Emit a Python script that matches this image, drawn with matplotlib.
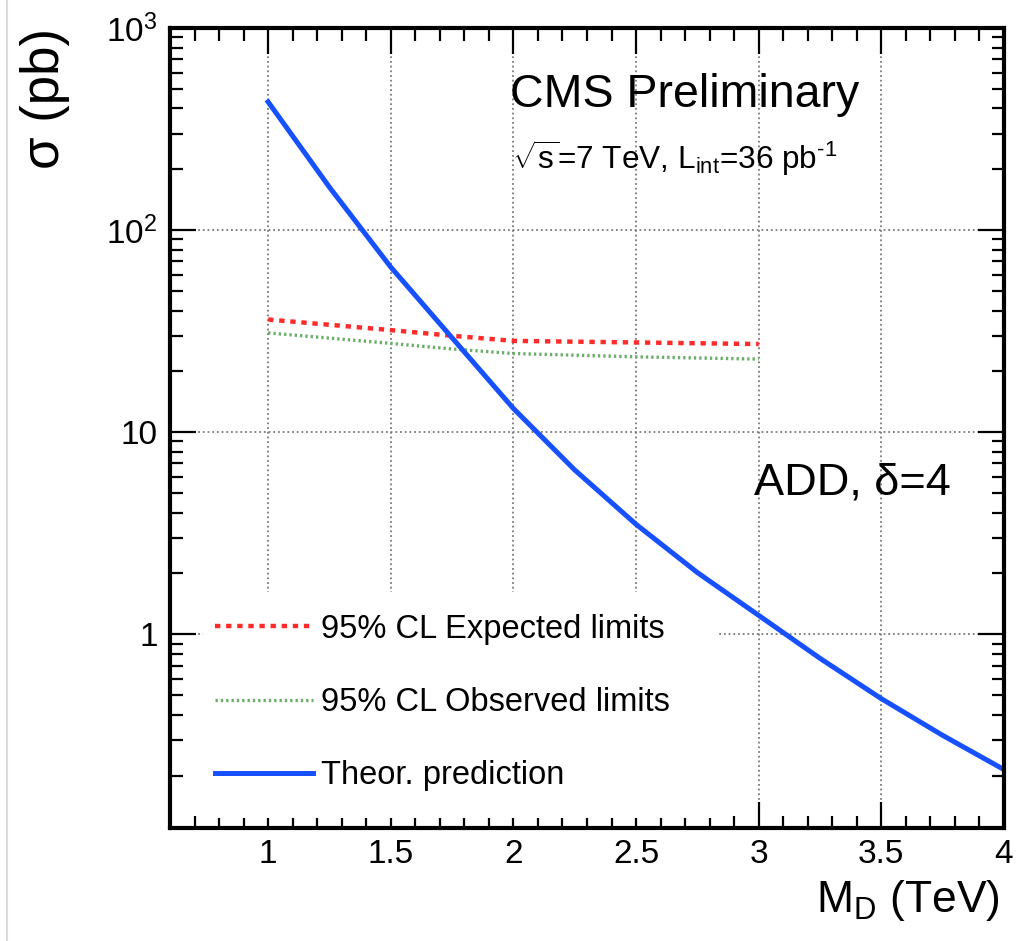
import matplotlib
matplotlib.use("Agg")
import matplotlib.pyplot as plt
from matplotlib.lines import Line2D
from matplotlib.patches import Rectangle
from matplotlib.ticker import FixedLocator, FixedFormatter, MultipleLocator, LogLocator, NullFormatter

plt.rcParams["font.family"] = ["Liberation Sans", "DejaVu Sans"]
plt.rcParams["mathtext.fontset"] = "custom"
plt.rcParams["mathtext.rm"] = "Liberation Sans"
plt.rcParams["mathtext.it"] = "Liberation Sans:italic"

# ADD, delta=4 : cross sections (pb) vs M_D (TeV)
md_theory = [1.0, 1.25, 1.5, 1.75, 2.0, 2.25, 2.5, 2.75, 3.0, 3.25, 3.5, 3.75, 4.0]
xs_theory = [431, 163, 65.6, 29.3, 13.1, 6.5, 3.5, 2.02, 1.24, 0.76, 0.48, 0.316, 0.214]

md_limit = [1.0, 1.25, 1.5, 1.75, 2.0, 2.5, 3.0]
xs_expected = [36.1, 34.0, 32.0, 30.0, 28.3, 27.8, 27.3]
xs_observed = [31.0, 29.2, 27.5, 25.8, 24.5, 23.6, 23.0]

ytick_vals = [1, 10, 100, 1000]
ytick_labels = ["1", "10", r"$10^{2}$", r"$10^{3}$"]

fig = plt.figure(figsize=(10.16, 9.41), dpi=100)
ax = fig.add_axes([170 / 1016, 113 / 941, 834 / 1016, 800 / 941])

ax.set_yscale("log")
ax.set_xlim(0.6, 4.0)
ax.set_ylim(0.11, 1000)

# grid hidden under the legend area (as in the original)
ax.grid(True, which="major", ls=(0, (1, 1.6)), color="#7a7a7a", lw=1.3)
ax.add_patch(Rectangle((0.04, 0.0125), 0.616, 0.283, transform=ax.transAxes,
                       facecolor="white", edgecolor="none", zorder=1.8))

l_exp, = ax.plot(md_limit, xs_expected, color="#ff2a2a", lw=3.2,
                 dashes=(1.2, 1.3), zorder=2.2)
l_obs, = ax.plot(md_limit, xs_observed, color="#6aae6a", lw=2.4,
                 dashes=(0.7, 0.9), zorder=2.1)
l_th, = ax.plot(md_theory, xs_theory, color="#1650ff", lw=3.6, zorder=2.3)

ax.xaxis.set_minor_locator(MultipleLocator(0.1))
ax.set_xticks([1, 1.5, 2, 2.5, 3, 3.5, 4])
ax.set_xticklabels(["1", "1.5", "2", "2.5", "3", "3.5", "4"])
ax.yaxis.set_major_locator(FixedLocator(ytick_vals))
ax.yaxis.set_major_formatter(FixedFormatter(ytick_labels))
ax.yaxis.set_minor_locator(LogLocator(base=10, subs=range(2, 10)))
ax.yaxis.set_minor_formatter(NullFormatter())

ax.tick_params(which="both", direction="in", top=True, right=True, width=1.6)
ax.tick_params(which="major", length=19, labelsize=24)
ax.tick_params(which="minor", length=9)
ax.tick_params(axis="x", which="major", pad=8)
ax.tick_params(axis="y", which="major", pad=9)
for s in ax.spines.values():
    s.set_linewidth(3.0)

ax.set_xlabel(r"M$_{\rm D}$ (TeV)", fontsize=32, loc="right")
ax.xaxis.set_label_coords(0.995, -0.062)
ax.set_ylabel("σ (pb)", fontsize=38, loc="top")
ax.yaxis.set_label_coords(-0.12, 1.0)

ax.text(0.6175, 0.916, "CMS Preliminary", transform=ax.transAxes,
        ha="center", va="center", fontsize=33.5)
ax.text(0.605, 0.838, r"$\sqrt{\mathrm{s}}$=7 TeV, L$_{\rm int}$=36 pb$^{\text{-1}}$",
        transform=ax.transAxes, ha="center", va="center", fontsize=22.7)
ax.text(0.818, 0.431, "ADD, δ=4", transform=ax.transAxes,
        ha="center", va="center", fontsize=32.5)

ax.legend([l_exp, l_obs, l_th],
          ["95% CL Expected limits", "95% CL Observed limits", "Theor. prediction"],
          loc="upper left", bbox_to_anchor=(0.054, 0.268), frameon=False,
          fontsize=23.5, handlelength=3.0, handletextpad=0.25, labelspacing=1.3,
          borderpad=0, borderaxespad=0)

fig.add_artist(Line2D([7 / 1016, 7 / 1016], [0, 1], color="#dcdcdc", lw=1.5))

fig.savefig("out.png", dpi=100)
